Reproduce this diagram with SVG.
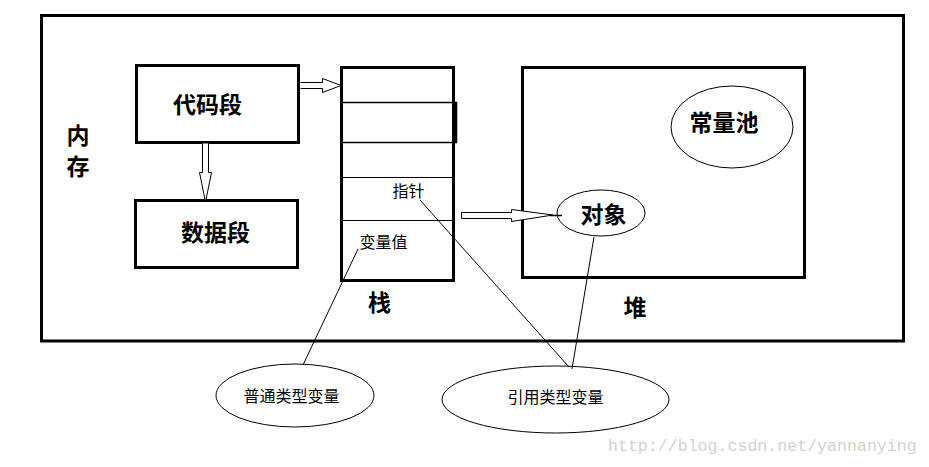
<svg xmlns="http://www.w3.org/2000/svg" width="929" height="467" viewBox="0 0 929 467">
<style>
.box{fill:none;stroke:#000;stroke-width:3}
.thin{fill:none;stroke:#000;stroke-width:1}
.ell{fill:#fff;stroke:#000;stroke-width:1}
.arr{fill:#fff;stroke:#000;stroke-width:1;stroke-linejoin:miter}
.big{font-family:"Noto Sans CJK SC","Noto Sans CJK TC",sans-serif;font-size:23px;font-weight:bold;fill:#000;text-anchor:middle;dominant-baseline:central}
.small{font-family:"Noto Sans CJK SC","Noto Sans CJK TC",sans-serif;font-size:16px;fill:#000;text-anchor:middle;dominant-baseline:central}
.wm{font-family:"Liberation Mono","DejaVu Sans Mono",monospace;font-size:16.6px;fill:#d2d2ca}
</style>
<rect width="929" height="467" fill="#fff"/>
<g id="memory">
<rect class="box" x="41.5" y="15.5" width="862" height="325.5"/>
<text class="big" x="78" y="133.5">内</text>
<text class="big" x="78" y="164.5">存</text>
</g>
<g id="code-segment">
<rect class="box" x="136.5" y="65.5" width="162" height="77"/>
<text class="big" x="207.5" y="102.5">代码段</text>
</g>
<g id="data-segment">
<rect class="box" x="135.5" y="200.5" width="162" height="67"/>
<text class="big" x="215.5" y="231">数据段</text>
</g>
<g id="stack">
<rect class="box" x="341.5" y="67.5" width="112" height="213"/>
<rect x="341.5" y="102.5" width="115" height="40" fill="none" stroke="#000" stroke-width="1.5"/>
<line x1="455.5" y1="102" x2="455.5" y2="143" stroke="#000" stroke-width="2.5"/>
<line class="thin" x1="341" y1="177.5" x2="454" y2="177.5"/>
<line class="thin" x1="341" y1="220.5" x2="454" y2="220.5"/>
<text class="small" x="408.5" y="189.5">指针</text>
<text class="small" x="383.5" y="240.5">变量值</text>
<text class="big" x="379.5" y="301">栈</text>
</g>
<g id="heap">
<rect class="box" x="522.5" y="67.5" width="282" height="210"/>
<text class="big" x="635" y="305.5">堆</text>
</g>
<g id="constant-pool">
<ellipse class="ell" cx="732" cy="127" rx="61" ry="41"/>
<text class="big" x="724" y="121">常量池</text>
</g>
<g id="object">
<ellipse class="ell" cx="601" cy="213" rx="44" ry="23"/>
<text class="big" x="603.5" y="213">对象</text>
</g>
<g id="primitive-var">
<ellipse class="ell" cx="295" cy="395.5" rx="79" ry="31.5"/>
<text class="small" x="291.5" y="395">普通类型变量</text>
</g>
<g id="reference-var">
<ellipse class="ell" cx="555.5" cy="399.5" rx="113.5" ry="33.5"/>
<text class="small" x="555.5" y="395.5">引用类型变量</text>
</g>
<g id="connectors">
<path class="arr" d="M300.5,82.5 L322.5,82.5 L322.5,78.5 L341,85.5 L322.5,92.5 L322.5,88.5 L300.5,88.5"/>
<path class="arr" d="M202.5,143.5 L202.5,172.5 L199.5,172.5 L205.5,202 L211.5,172.5 L208.5,172.5 L208.5,143.5"/>
<path class="arr" d="M461.5,212.5 L511.5,212.5 L511.5,209.5 L553,215 L511.5,221.5 L511.5,218.5 L461.5,218.5 Z"/>
<line x1="550" y1="215.5" x2="562" y2="215.5" stroke="#000" stroke-width="1.5"/>
<line class="thin" x1="358" y1="249" x2="303" y2="365"/>
<line class="thin" x1="420" y1="200" x2="569" y2="367"/>
<line class="thin" x1="594" y1="237" x2="572" y2="369"/>
</g>
<text class="wm" x="608" y="451">http://blog.csdn.net/yannanying</text>
</svg>
